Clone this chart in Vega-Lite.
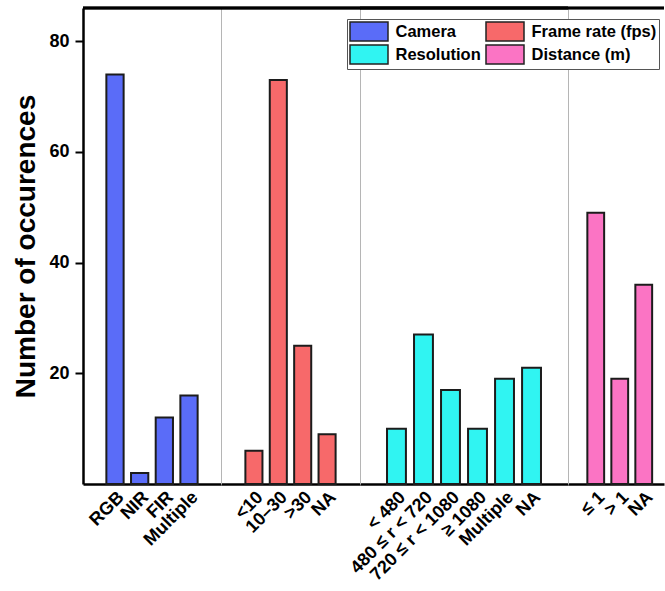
{
  "$schema": "https://vega.github.io/schema/vega-lite/v6.json",
  "background": "white",
  "padding": {"left": 12, "top": 6, "right": 0, "bottom": 0},
  "config": {
    "font": "Liberation Sans",
    "view": {"stroke": null},
    "axis": {"labelFont": "Liberation Sans", "titleFont": "Liberation Sans", "grid": false}
  },
  "data": {
    "values": [
      {"group": "Camera", "label": "RGB", "count": 74},
      {"group": "Camera", "label": "NIR", "count": 2},
      {"group": "Camera", "label": "FIR", "count": 12},
      {"group": "Camera", "label": "Multiple", "count": 16},
      {"group": "Frame rate (fps)", "label": "<10", "count": 6},
      {"group": "Frame rate (fps)", "label": "10–30", "count": 73},
      {"group": "Frame rate (fps)", "label": ">30", "count": 25},
      {"group": "Frame rate (fps)", "label": "NA", "count": 9},
      {"group": "Resolution", "label": "< 480", "count": 10},
      {"group": "Resolution", "label": "480 ≤ r < 720", "count": 27},
      {"group": "Resolution", "label": "720 ≤ r < 1080", "count": 17},
      {"group": "Resolution", "label": "≥ 1080", "count": 10},
      {"group": "Resolution", "label": "Multiple", "count": 19},
      {"group": "Resolution", "label": "NA", "count": 21},
      {"group": "Distance (m)", "label": "≤ 1", "count": 49},
      {"group": "Distance (m)", "label": "> 1", "count": 19},
      {"group": "Distance (m)", "label": "NA", "count": 36}
    ]
  },
  "spacing": 0,
  "bounds": "flush",
  "resolve": {"scale": {"color": "shared"}},
  "hconcat": [
    {
      "width": 138,
      "height": 476,
      "transform": [{"filter": "datum.group === 'Camera'"}],
      "layer": [
        {
          "mark": {"type": "bar", "stroke": "#1c1c1c", "strokeWidth": 2},
          "encoding": {
            "x": {"field": "label", "type": "nominal", "sort": null, "title": null,
              "scale": {"paddingInner": 0.3, "paddingOuter": 0.947},
              "axis": {"ticks": false, "domainColor": "black", "domainWidth": 2.5, "labelAngle": -45, "labelFontSize": 18, "labelFontWeight": "bold", "labelColor": "black", "labelPadding": 4, "labelLimit": 300}},
            "y": {"field": "count", "type": "quantitative",
              "scale": {"domain": [0, 86], "nice": false},
              "axis": {"values": [20, 40, 60, 80], "tickSize": 8, "tickWidth": 2, "tickColor": "black", "domainColor": "black", "domainWidth": 2.5, "labelFontSize": 18, "labelFontWeight": "bold", "labelColor": "black", "labelPadding": 6, "title": "Number of occurences", "titleFontSize": 28, "titleFontWeight": "bold", "titleColor": "black", "titlePadding": 8}},
            "color": {"field": "group", "type": "nominal",
              "scale": {"domain": ["Camera", "Frame rate (fps)", "Resolution", "Distance (m)"], "range": ["#5a6cf8", "#f7696a", "#30f4f2", "#fb74c4"]},
              "legend": {"orient": "none", "legendX": 264, "legendY": 11, "columns": 2, "direction": "horizontal", "title": null,
                "symbolType": "M-2,-1H2V1H-2Z", "symbolSize": 361, "symbolOffset": 9.5, "symbolStrokeColor": "#222", "symbolStrokeWidth": 1.5, "symbolOpacity": 1,
                "labelFont": "Liberation Sans", "labelFontSize": 16.5, "labelFontWeight": "bold", "labelColor": "black", "labelOffset": 16, "labelLimit": 300,
                "rowPadding": -3, "columnPadding": 2, "padding": 2, "strokeColor": "#555", "fillColor": "white"}}
          }
        },
        {"mark": {"type": "rule", "color": "black", "strokeWidth": 2.5}, "encoding": {"y": {"datum": 86}}}
      ]
    },
    {
      "width": 139,
      "height": 476,
      "transform": [{"filter": "datum.group === 'Frame rate (fps)'"}],
      "layer": [
        {
          "mark": {"type": "bar", "stroke": "#1c1c1c", "strokeWidth": 2},
          "encoding": {
            "x": {"field": "label", "type": "nominal", "sort": null, "title": null,
              "scale": {"paddingInner": 0.3, "paddingOuter": 1.0},
              "axis": {"ticks": false, "domainColor": "black", "domainWidth": 2.5, "labelAngle": -45, "labelFontSize": 18, "labelFontWeight": "bold", "labelColor": "black", "labelPadding": 4, "labelLimit": 300}},
            "y": {"field": "count", "type": "quantitative",
              "scale": {"domain": [0, 86], "nice": false},
              "axis": {"labels": false, "ticks": false, "domainColor": "#b5b5b5", "domainWidth": 1, "title": null}},
            "color": {"field": "group", "type": "nominal",
              "scale": {"domain": ["Camera", "Frame rate (fps)", "Resolution", "Distance (m)"], "range": ["#5a6cf8", "#f7696a", "#30f4f2", "#fb74c4"]},
              "legend": null}
          }
        },
        {"mark": {"type": "rule", "color": "black", "strokeWidth": 2.5}, "encoding": {"y": {"datum": 86}}}
      ]
    },
    {
      "width": 208,
      "height": 476,
      "transform": [{"filter": "datum.group === 'Resolution'"}],
      "layer": [
        {
          "mark": {"type": "bar", "stroke": "#1c1c1c", "strokeWidth": 2},
          "encoding": {
            "x": {"field": "label", "type": "nominal", "sort": null, "title": null,
              "scale": {"paddingInner": 0.3, "paddingOuter": 1.47},
              "axis": {"ticks": false, "domainColor": "black", "domainWidth": 2.5, "labelAngle": -45, "labelFontSize": 18, "labelFontWeight": "bold", "labelColor": "black", "labelPadding": 4, "labelLimit": 300}},
            "y": {"field": "count", "type": "quantitative",
              "scale": {"domain": [0, 86], "nice": false},
              "axis": {"labels": false, "ticks": false, "domainColor": "#b5b5b5", "domainWidth": 1, "title": null}},
            "color": {"field": "group", "type": "nominal",
              "scale": {"domain": ["Camera", "Frame rate (fps)", "Resolution", "Distance (m)"], "range": ["#5a6cf8", "#f7696a", "#30f4f2", "#fb74c4"]},
              "legend": null}
          }
        },
        {"mark": {"type": "rule", "color": "black", "strokeWidth": 2.5}, "encoding": {"y": {"datum": 86}}}
      ]
    },
    {
      "width": 96,
      "height": 476,
      "transform": [{"filter": "datum.group === 'Distance (m)'"}],
      "layer": [
        {
          "mark": {"type": "bar", "stroke": "#1c1c1c", "strokeWidth": 2},
          "encoding": {
            "x": {"field": "label", "type": "nominal", "sort": null, "title": null,
              "scale": {"paddingInner": 0.3, "paddingOuter": 0.65, "align": 0.62},
              "axis": {"ticks": false, "domainColor": "black", "domainWidth": 2.5, "labelAngle": -45, "labelFontSize": 18, "labelFontWeight": "bold", "labelColor": "black", "labelPadding": 4, "labelLimit": 300}},
            "y": {"field": "count", "type": "quantitative",
              "scale": {"domain": [0, 86], "nice": false},
              "axis": {"labels": false, "ticks": false, "domainColor": "#b5b5b5", "domainWidth": 1, "title": null}},
            "color": {"field": "group", "type": "nominal",
              "scale": {"domain": ["Camera", "Frame rate (fps)", "Resolution", "Distance (m)"], "range": ["#5a6cf8", "#f7696a", "#30f4f2", "#fb74c4"]},
              "legend": null}
          }
        },
        {"mark": {"type": "rule", "color": "black", "strokeWidth": 2.5}, "encoding": {"y": {"datum": 86}}}
      ]
    }
  ]
}
